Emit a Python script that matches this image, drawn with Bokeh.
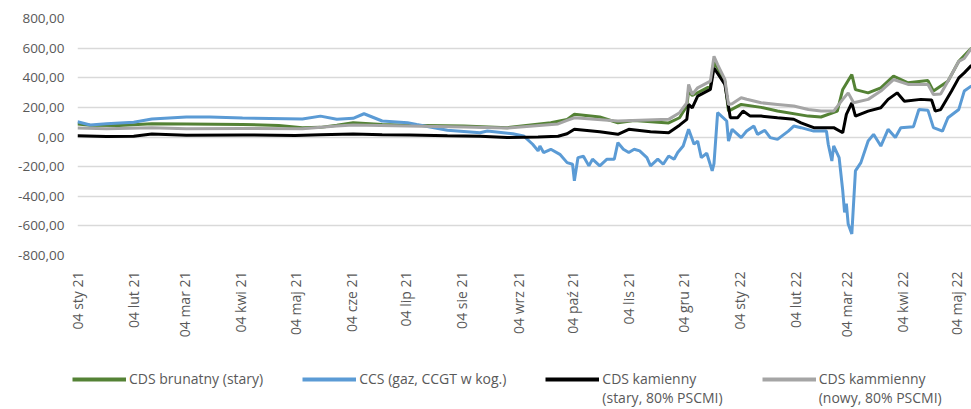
import math
import pandas as pd
from bokeh.plotting import figure
from bokeh.layouts import column, row
from bokeh.models import Range1d, FixedTicker, Legend, LegendItem
from bokeh.embed import file_html
from bokeh.resources import INLINE

# ---- data -------------------------------------------------------------
tick_dates = ["2021-01-04", "2021-02-04", "2021-03-04", "2021-04-04", "2021-05-04",
              "2021-06-04", "2021-07-04", "2021-08-04", "2021-09-04", "2021-10-04",
              "2021-11-04", "2021-12-04", "2022-01-04", "2022-02-04", "2022-03-04",
              "2022-04-04", "2022-05-04"]
tick_labels = ["04 sty 21", "04 lut 21", "04 mar 21", "04 kwi 21", "04 maj 21",
               "04 cze 21", "04 lip 21", "04 sie 21", "04 wrz 21", "04 paź 21",
               "04 lis 21", "04 gru 21", "04 sty 22", "04 lut 22", "04 mar 22",
               "04 kwi 22", "04 maj 22"]
y_ticks = [-800, -600, -400, -200, 0, 200, 400, 600, 800]

series_names = ["CDS brunatny (stary)", "CCS (gaz, CCGT w kog.)",
                "CDS kamienny\n(stary, 80% PSCMI)", "CDS kammienny\n(nowy, 80% PSCMI)"]
series_colors = ["#548235", "#5B9BD5", "#000000", "#A5A5A5"]

brunatny_dates = ["2021-01-04", "2021-01-11", "2021-01-27", "2021-02-14", "2021-03-05",
                  "2021-04-05", "2021-04-25", "2021-05-08", "2021-05-18", "2021-05-27",
                  "2021-06-05", "2021-06-21", "2021-07-05", "2021-08-05", "2021-08-29",
                  "2021-09-22", "2021-10-01", "2021-10-05", "2021-10-19", "2021-10-29",
                  "2021-11-07", "2021-11-20", "2021-11-26", "2021-12-02", "2021-12-06",
                  "2021-12-07", "2021-12-09", "2021-12-19", "2021-12-21", "2021-12-27",
                  "2021-12-29", "2022-01-05", "2022-01-16", "2022-01-25", "2022-02-11",
                  "2022-02-18", "2022-02-27", "2022-03-02", "2022-03-07", "2022-03-09",
                  "2022-03-16", "2022-03-23", "2022-03-30", "2022-04-07", "2022-04-18",
                  "2022-04-21", "2022-04-29", "2022-05-05", "2022-05-12"]
brunatny_vals = [87, 80, 78, 90, 88,
                 85, 78, 63, 65, 80,
                 96, 85, 80, 74, 63,
                 96, 119, 153, 135, 96,
                 112, 100, 95, 130, 209,
                 310, 280, 343, 511, 375,
                 175, 220, 200, 175, 141,
                 135, 175, 321, 422, 320,
                 298, 332, 411, 366, 381,
                 310, 377, 511, 600]

ccs_dates = ["2021-01-04", "2021-01-11", "2021-01-20", "2021-02-04", "2021-02-14",
             "2021-03-05", "2021-03-18", "2021-04-05", "2021-05-08", "2021-05-18",
             "2021-05-27", "2021-06-05", "2021-06-11", "2021-06-21", "2021-07-05",
             "2021-07-10", "2021-07-27", "2021-08-14", "2021-08-18", "2021-09-01",
             "2021-09-07", "2021-09-12", "2021-09-15", "2021-09-16", "2021-09-18",
             "2021-09-22", "2021-09-27", "2021-10-01", "2021-10-04", "2021-10-05",
             "2021-10-07", "2021-10-10", "2021-10-13", "2021-10-15", "2021-10-19",
             "2021-10-23", "2021-10-27", "2021-10-29", "2021-11-01", "2021-11-04",
             "2021-11-07", "2021-11-10", "2021-11-14", "2021-11-16", "2021-11-20",
             "2021-11-23", "2021-11-26", "2021-11-29", "2021-12-01", "2021-12-04",
             "2021-12-07", "2021-12-10", "2021-12-12", "2021-12-14", "2021-12-17",
             "2021-12-20", "2021-12-21", "2021-12-23", "2021-12-28", "2021-12-29",
             "2021-12-31", "2022-01-05", "2022-01-08", "2022-01-12", "2022-01-14",
             "2022-01-18", "2022-01-21", "2022-01-25", "2022-01-31", "2022-02-03",
             "2022-02-07", "2022-02-14", "2022-02-21", "2022-02-22", "2022-02-24",
             "2022-02-25", "2022-02-28", "2022-03-02", "2022-03-03", "2022-03-04",
             "2022-03-05", "2022-03-07", "2022-03-09", "2022-03-12", "2022-03-16",
             "2022-03-19", "2022-03-23", "2022-03-27", "2022-03-31", "2022-04-03",
             "2022-04-10", "2022-04-13", "2022-04-18", "2022-04-21", "2022-04-26",
             "2022-04-29", "2022-05-05", "2022-05-08", "2022-05-12"]
ccs_vals = [103, 81, 90, 100, 121,
            135, 135, 128, 121, 141,
            120, 126, 157, 108, 97,
            85, 45, 29, 40, 22,
            7, -49, -94, -60, -105,
            -83, -117, -173, -184, -296,
            -139, -130, -195, -150, -195,
            -150, -150, -38, -83, -105,
            -83, -94, -139, -195, -150,
            -184, -128, -150, -105, -61,
            52, -49, -27, -139, -110,
            -229, -180, 164, 108, -27,
            52, -4, 40, 74, 18,
            45, -4, -16, 40, 74,
            63, 40, 40, -49, -162,
            -60, -139, -363, -509, -450,
            -588, -655, -229, -173, -27,
            18, -61, 52, -4, 63,
            70, 186, 180, 63, 40,
            130, 186, 310, 345]

kamienny_dates = ["2021-01-04", "2021-01-20", "2021-02-04", "2021-02-14", "2021-03-05",
                  "2021-04-05", "2021-05-04", "2021-05-18", "2021-06-05", "2021-06-21",
                  "2021-07-06", "2021-07-27", "2021-08-14", "2021-08-29", "2021-09-15",
                  "2021-09-26", "2021-10-01", "2021-10-05", "2021-10-19", "2021-10-29",
                  "2021-11-04", "2021-11-16", "2021-11-26", "2021-12-02", "2021-12-06",
                  "2021-12-07", "2021-12-09", "2021-12-12", "2021-12-19", "2021-12-21",
                  "2021-12-27", "2021-12-30", "2022-01-03", "2022-01-06", "2022-01-10",
                  "2022-01-16", "2022-01-25", "2022-02-03", "2022-02-07", "2022-02-14",
                  "2022-02-25", "2022-03-02", "2022-03-04", "2022-03-07", "2022-03-09",
                  "2022-03-16", "2022-03-23", "2022-03-27", "2022-04-01", "2022-04-05",
                  "2022-04-14", "2022-04-20", "2022-04-22", "2022-04-25", "2022-05-01",
                  "2022-05-05", "2022-05-08", "2022-05-12"]
kamienny_vals = [8, 3, 5, 20, 12,
                 14, 10, 15, 20, 15,
                 13, 8, 5, -4, 0,
                 5, 22, 52, 36, 18,
                 52, 35, 29, 80, 119,
                 220, 197, 276, 321, 466,
                 355, 130, 130, 175, 141,
                 141, 130, 120, 96, 63,
                 63, 29, 153, 231, 141,
                 175, 197, 254, 298, 242,
                 254, 250, 175, 185, 310,
                 399, 433, 485]

kammienny_dates = ["2021-01-04", "2021-01-20", "2021-02-14", "2021-03-05", "2021-04-05",
                   "2021-05-08", "2021-05-27", "2021-06-05", "2021-07-05", "2021-08-05",
                   "2021-08-29", "2021-09-26", "2021-10-01", "2021-10-05", "2021-10-29",
                   "2021-11-26", "2021-12-02", "2021-12-06", "2021-12-07", "2021-12-09",
                   "2021-12-12", "2021-12-19", "2021-12-21", "2021-12-23", "2021-12-27",
                   "2021-12-29", "2021-12-31", "2022-01-05", "2022-01-08", "2022-01-16",
                   "2022-01-25", "2022-02-03", "2022-02-11", "2022-02-18", "2022-02-25",
                   "2022-03-02", "2022-03-05", "2022-03-08", "2022-03-16", "2022-03-23",
                   "2022-03-30", "2022-04-07", "2022-04-18", "2022-04-21", "2022-04-25",
                   "2022-04-29", "2022-05-05", "2022-05-08", "2022-05-12"]
kammienny_vals = [60, 55, 62, 56, 58,
                  55, 74, 81, 75, 68,
                  60, 88, 112, 130, 108,
                  119, 164, 231, 355, 287,
                  332, 377, 545, 489, 388,
                  220, 225, 265, 255, 231,
                  220, 209, 186, 175, 175,
                  254, 298, 231, 254, 310,
                  388, 355, 355, 287, 290,
                  377, 511, 530, 600]

# ---- main figure ------------------------------------------------------
FONT = "Open Sans"
TXT = "#595959"

x_start = pd.Timestamp("2021-01-04")
x_end = pd.Timestamp("2022-05-12")

p = figure(width=971, height=340, x_axis_type="datetime",
           output_backend="svg", toolbar_location=None,
           x_range=Range1d(x_start, x_end), y_range=Range1d(-800, 800),
           min_border_left=77, min_border_right=0, min_border_top=18,
           min_border_bottom=85)
p.outline_line_color = None
p.background_fill_color = "white"
p.border_fill_color = "white"

all_dates = [brunatny_dates, ccs_dates, kamienny_dates, kammienny_dates]
all_vals = [brunatny_vals, ccs_vals, kamienny_vals, kammienny_vals]
for d, v, c in zip(all_dates, all_vals, series_colors):
    p.line(pd.to_datetime(d), v, line_color=c, line_width=3)

tick_ms = [int(pd.Timestamp(d).value // 10**6) for d in tick_dates]
p.xaxis.ticker = FixedTicker(ticks=tick_ms)
p.xaxis.major_label_overrides = {t: l for t, l in zip(tick_ms, tick_labels)}
p.xaxis.major_label_orientation = math.pi / 2
p.xaxis.major_label_standoff = 10

p.yaxis.ticker = FixedTicker(ticks=y_ticks)
p.yaxis.major_label_overrides = {t: f"{t:.2f}".replace(".", ",") for t in y_ticks}
p.yaxis.major_label_standoff = 7

for ax in (p.xaxis[0], p.yaxis[0]):
    ax.axis_line_color = None
    ax.major_tick_line_color = None
    ax.minor_tick_line_color = None
    ax.major_label_text_font = FONT
    ax.major_label_text_color = TXT

p.xaxis[0].major_label_text_font_size = "14px"
p.yaxis[0].major_label_text_font_size = "13.5px"

p.xgrid.visible = False
p.ygrid.grid_line_color = "#d9d9d9"
p.ygrid.grid_line_width = 1.5

# ---- legend strip -----------------------------------------------------
lg = figure(width=971, height=69, output_backend="svg", toolbar_location=None,
            x_range=Range1d(0, 1), y_range=Range1d(0, 1),
            min_border_left=0, min_border_right=0, min_border_top=0,
            min_border_bottom=0, x_axis_location=None, y_axis_location=None)
lg.outline_line_color = None
lg.grid.visible = False
items = []
for name, c in zip(series_names, series_colors):
    # multi-line labels get a blank first line so the sample line sits
    # level with the first text line, as in the original
    label = ("\n" + name) if "\n" in name else name
    r = lg.line([float("nan")], [float("nan")], line_color=c, line_width=4)
    items.append(LegendItem(label=label, renderers=[r]))
legend = Legend(
    items=items, orientation="horizontal", location=(72, 2),
    glyph_width=54, glyph_height=16, label_standoff=3, spacing=39,
    padding=0, margin=0, border_line_color=None, background_fill_alpha=0,
    label_text_font=FONT, label_text_font_size="14px", label_text_color=TXT,
    label_text_line_height=1.3,
)
lg.add_layout(legend)

layout = column(p, row(lg), spacing=0)
open("out.html", "w").write(file_html(layout, INLINE))
